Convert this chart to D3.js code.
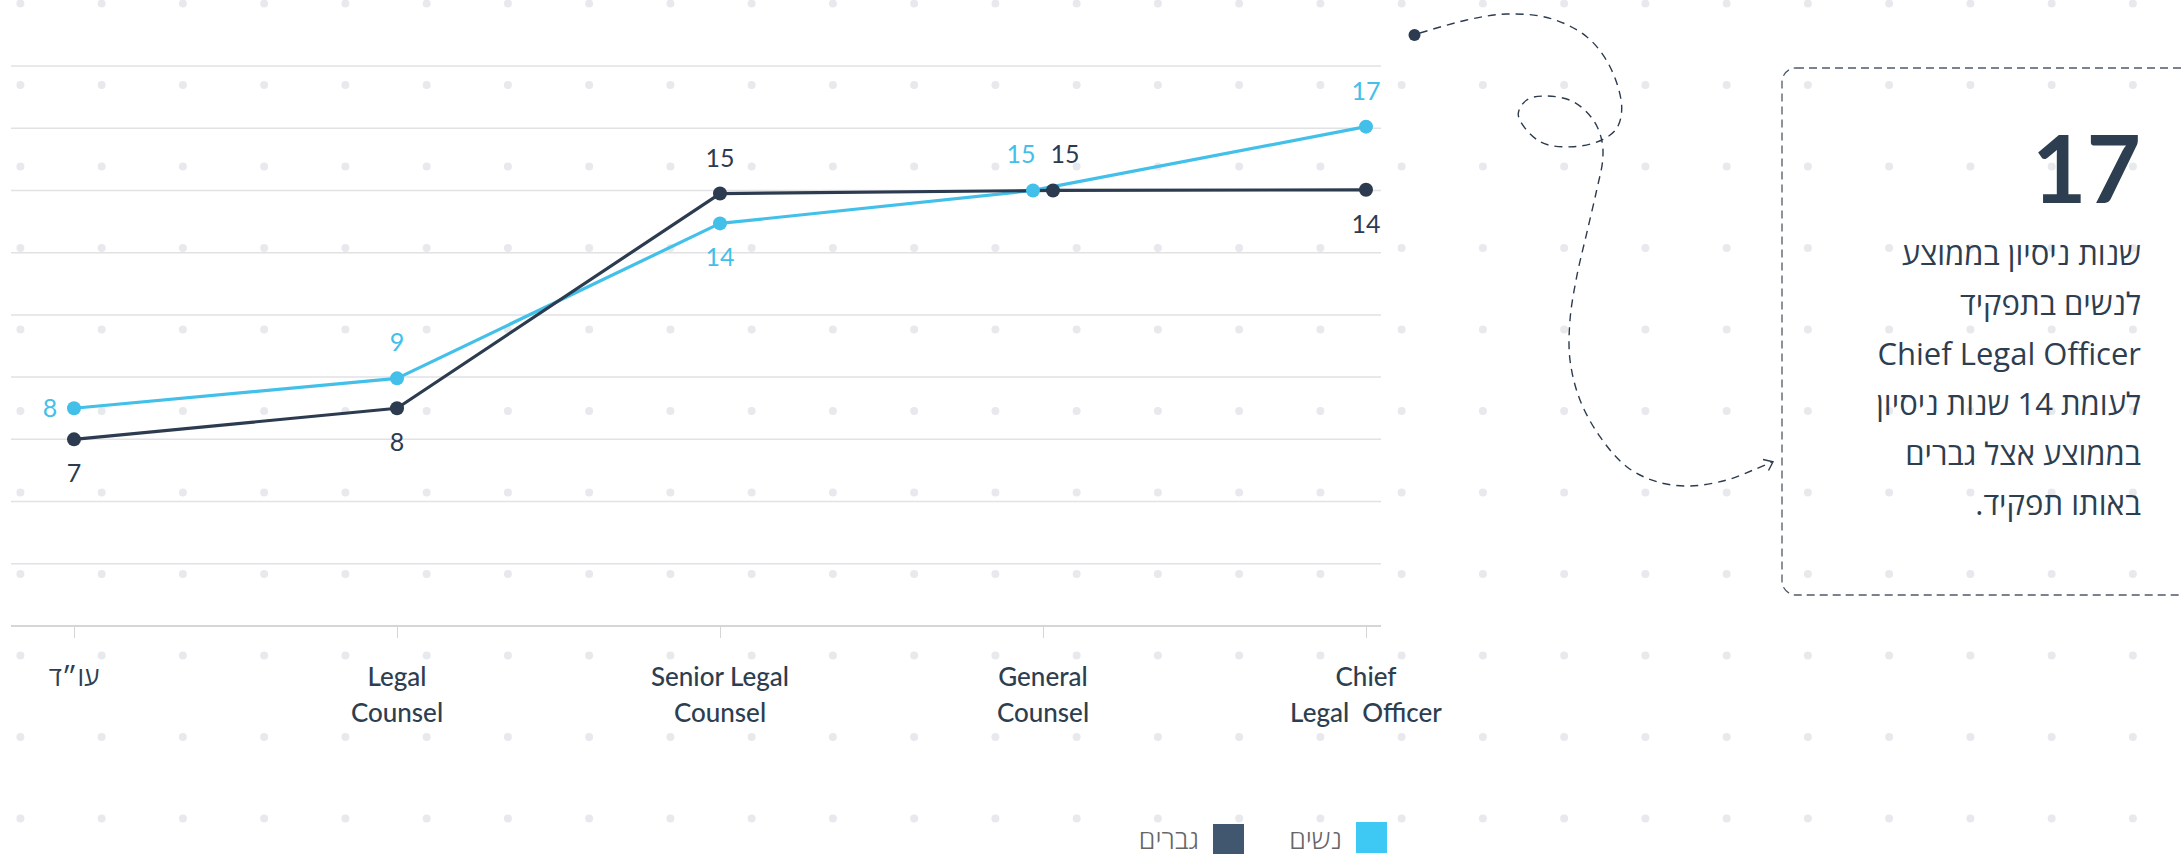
<!DOCTYPE html>
<html><head><meta charset="utf-8">
<script src="https://cdn.jsdelivr.net/npm/d3@7/dist/d3.min.js"></script>
<style>
body{margin:0;background:#fff}
svg{display:block}
text{font-family:"Lato","Open Sans","Liberation Sans","DejaVu Sans",sans-serif}
text.callout{font-family:"Open Sans","Lato","Liberation Sans","DejaVu Sans",sans-serif}
</style>
</head><body>
<svg id="c" width="2183" height="854"></svg>
<script>
// ---------- data ----------
const categories = ["עו״ד", "Legal Counsel", "Senior Legal Counsel", "General Counsel", "Chief Legal Officer"];
const categoryLines = [["עו״ד"], ["Legal", "Counsel"], ["Senior Legal", "Counsel"], ["General", "Counsel"], ["Chief", "Legal  Officer"]];
const womenValues = [8, 8.96, 13.94, 15, 17.05];
const menValues = [7, 8, 14.9, 15, 15.02];
const womenLabels = ["8", "9", "14", "15", "17"];
const menLabels = ["7", "8", "15", "15", "14"];
const womenLabelPos = ["left", "above", "below", "above", "above"];
const menLabelPos = ["below", "below", "above", "above", "below"];
const yTicks = [1, 3, 5, 7, 9, 11, 13, 15, 17, 19];
const seriesNames = ["נשים", "גברים"];
const calloutValue = "17";
const calloutLines = ["שנות ניסיון בממוצע", "לנשים בתפקיד", "Chief Legal Officer", "לעומת 14 שנות ניסיון", "בממוצע אצל גברים", "באותו תפקיד."];

// ---------- styles ----------
const C_WOMEN = "#42c0e9", C_MEN = "#2c3b4f", C_TEXT = "#2d3e50";
const C_WOMEN_LEG = "#3ec9f5", C_MEN_LEG = "#41566f";

const svg = d3.select("#c");

// background dot pattern
const dotXs = d3.range(0, 27).map(k => 20.4 + 81.25 * k);
const dotYs = d3.range(0, 11).map(k => 3.6 + 81.5 * k);
const bg = svg.append("g");
dotYs.forEach(yy => dotXs.forEach(xx => {
  bg.append("circle").attr("cx", xx).attr("cy", yy).attr("r", 4).attr("fill", "#e8e9ec");
}));

// scales
const x = d3.scalePoint().domain(categories).range([74, 1366]);
const y = d3.scaleLinear().domain([1, 19]).range([626, 66]);
const gridX0 = 11, gridX1 = 1381;

// grid
const grid = svg.append("g");
grid.selectAll("line").data(yTicks).join("line")
  .attr("x1", gridX0).attr("x2", gridX1)
  .attr("y1", d => y(d)).attr("y2", d => y(d))
  .attr("stroke", (d, i) => i === 0 ? "#d6d6d9" : "#e2e2e5")
  .attr("stroke-width", (d, i) => i === 0 ? 2 : 1.5);

// x axis ticks
const ax = svg.append("g").attr("transform", `translate(0,${y(1)})`)
  .call(d3.axisBottom(x).tickSize(12).tickFormat(""));
ax.select(".domain").remove();
ax.selectAll(".tick line").attr("stroke", "#d6d6d9").attr("stroke-width", 1);

// x labels
categories.forEach((c, i) => {
  const t = svg.append("text").attr("x", x(c)).attr("y", 686)
    .attr("text-anchor", "middle").attr("fill", C_TEXT)
    .attr("font-size", 26).attr("font-weight", 500);
  categoryLines[i].forEach((ln, j) => {
    t.append("tspan").attr("x", x(c)).attr("y", 686 + j * 36).style("white-space", "pre").text(ln);
  });
});

// dodge overlapping points
const R = 7;
const dodge = categories.map((c, i) => Math.abs(y(womenValues[i]) - y(menValues[i])) < 2 * R ? 10 : 0);
const px = (i, s) => x(categories[i]) + s * dodge[i];

const series = [
  {vals: womenValues, labels: womenLabels, pos: womenLabelPos, color: C_WOMEN, side: -1},
  {vals: menValues, labels: menLabels, pos: menLabelPos, color: C_MEN, side: 1}
];

// lines then points
series.forEach(s => {
  const line = d3.line().x((d, i) => px(i, s.side)).y(d => y(d));
  svg.append("path").datum(s.vals).attr("d", line)
    .attr("fill", "none").attr("stroke", s.color).attr("stroke-width", 3.2).attr("stroke-linejoin", "round");
});
[series[1], series[0]].forEach(s => {
  svg.append("g").selectAll("circle").data(s.vals).join("circle")
    .attr("cx", (d, i) => px(i, s.side)).attr("cy", d => y(d)).attr("r", R).attr("fill", s.color);
});
series.forEach(s => {
  svg.append("g").selectAll("text").data(s.vals).join("text")
    .attr("x", (d, i) => {
      const p = px(i, s.side);
      if (s.pos[i] === "left") return p - 24;
      return p + (dodge[i] ? s.side * 12 : 0);
    })
    .attr("y", (d, i) => {
      const p = y(d);
      if (s.pos[i] === "above") return p - 36;
      if (s.pos[i] === "below") return p + 34;
      return p;
    })
    .attr("dy", "0.36em").attr("text-anchor", "middle")
    .attr("font-size", 25).attr("fill", s.color)
    .text((d, i) => s.labels[i]);
});

// callout box
svg.append("rect").attr("x", 1782).attr("y", 68).attr("width", 520).attr("height", 527).attr("rx", 14)
  .attr("fill", "none").attr("stroke", "#4d5a69").attr("stroke-width", 1.3).attr("stroke-dasharray", "8 5");
svg.append("text").attr("x", 2141).attr("y", 203).attr("text-anchor", "end")
  .attr("font-size", 94).attr("font-weight", 700).attr("fill", C_TEXT).text(calloutValue);
calloutLines.forEach((ln, i) => {
  svg.append("text").attr("class", "callout").attr("x", 2141).attr("y", 265 + i * 50)
    .attr("direction", "rtl").attr("text-anchor", "start")
    .attr("font-size", 31).attr("font-weight", 400).attr("fill", C_TEXT).text(ln);
});

// curly dashed arrow
const arrowPts = [[1420,33],[1466.7,20],[1506.7,14],[1550,18.3],[1586.7,36.7],[1610,66.7],[1621.7,106.7],[1616.7,128.3],[1601.7,140],
  [1573.3,146.7],[1540,141.7],[1518.3,115],[1526.7,100],[1546.7,96],[1573.3,101.7],[1593.3,120],[1601.7,140],
  [1602.7,160],[1596.7,190],[1586.7,233.3],[1576.7,276.7],[1570,320],[1570,360],[1580,400],[1600,436.7],[1626.7,466.7],
  [1656.7,481.7],[1690,486],[1726.7,480],[1753.3,470],[1772.7,461.7]];
svg.append("path").attr("d", d3.line().curve(d3.curveCatmullRom.alpha(0.5))(arrowPts))
  .attr("fill", "none").attr("stroke", "#2c3b4f").attr("stroke-width", 1.4).attr("stroke-dasharray", "8 6");
svg.append("path").attr("d", d3.line()([[1763, 459.5],[1773, 461.7],[1768.5, 470.5]]))
  .attr("fill", "none").attr("stroke", "#2c3b4f").attr("stroke-width", 1.4);
svg.append("circle").attr("cx", 1414.5).attr("cy", 35).attr("r", 6).attr("fill", "#2c3b4f");

// legend
const legItems = [
  {name: seriesNames[0], color: C_WOMEN_LEG, sx: 1356, sy: 822},
  {name: seriesNames[1], color: C_MEN_LEG, sx: 1213, sy: 824}
];
legItems.forEach(l => {
  svg.append("rect").attr("x", l.sx).attr("y", l.sy).attr("width", 31).attr("height", 31).attr("fill", l.color);
  svg.append("text").attr("x", l.sx - 14).attr("y", 849).attr("text-anchor", "end")
    .attr("font-size", 27).attr("font-weight", 300).attr("fill", "#666").text(l.name);
});
</script>
</body></html>
